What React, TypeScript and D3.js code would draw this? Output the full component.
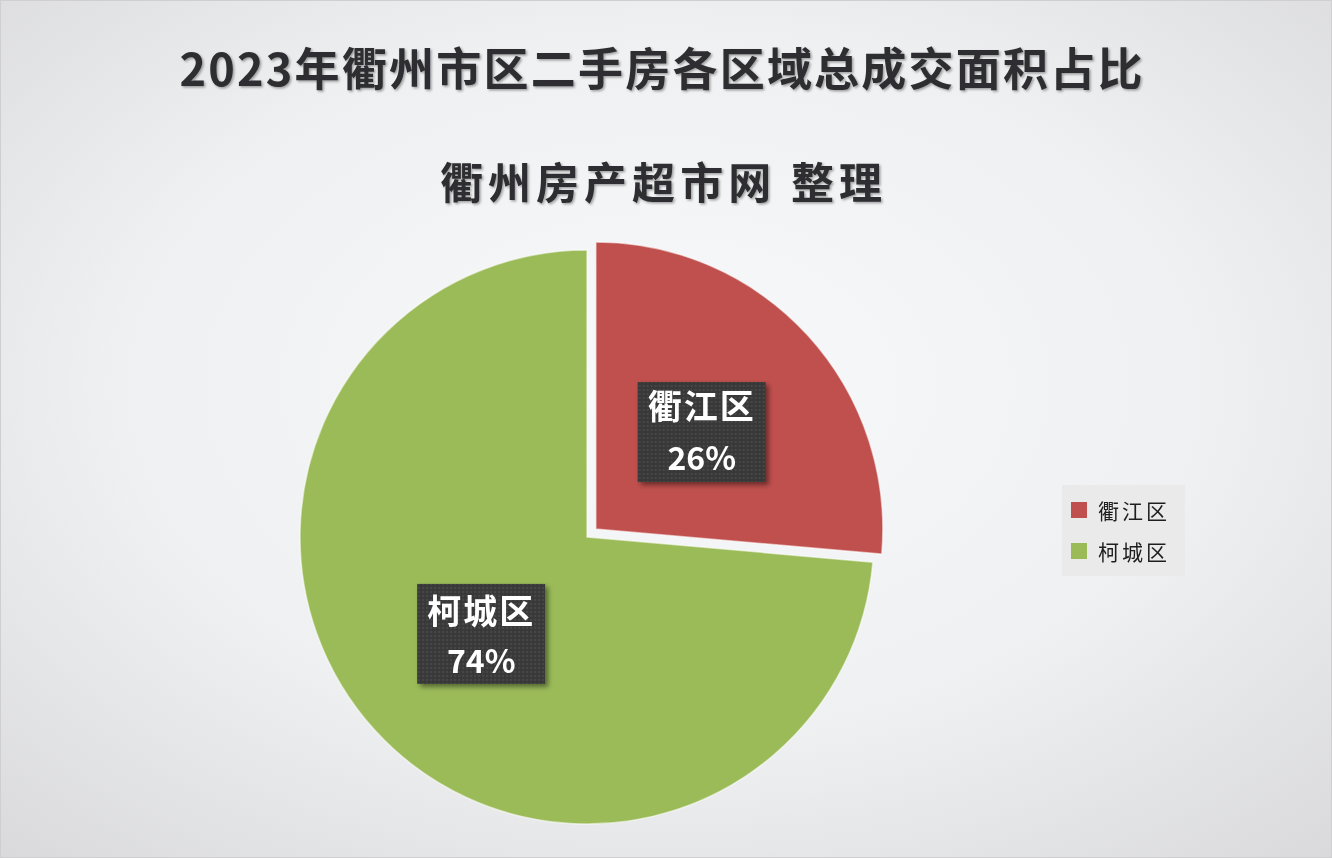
import React from 'react';
import * as d3 from 'd3';

// 区域与占比（%）
const districts = ['衢江区', '柯城区'];
const shares = [26.4, 73.6];
const shareLabels = ['26%', '74%'];
const colors = ['#c0504d', '#9bbb59'];

const titleText = '2023年衢州市区二手房各区域总成交面积占比';
const subtitleText = '衢州房产超市网 整理';

const W = 1332;
const H = 858;
const FONT = '"Noto Sans CJK SC", "Noto Sans", sans-serif';

interface Slice {
  name: string;
  value: number;
  label: string;
  color: string;
}

const slices: Slice[] = districts.map((name, i) => ({
  name,
  value: shares[i],
  label: shareLabels[i],
  color: colors[i],
}));

export default function App() {
  const cx = 587;
  const cy = 537;
  const r = 287;
  const explode = [12, 0];

  const pie = d3.pie<Slice>().value(d => d.value).sort(null);
  const arcs = pie(slices);
  const arc = d3.arc<d3.PieArcDatum<Slice>>().innerRadius(0).outerRadius(r);

  const offset = (a: d3.PieArcDatum<Slice>, dist: number) => {
    const mid = (a.startAngle + a.endAngle) / 2;
    return [Math.sin(mid) * dist, -Math.cos(mid) * dist];
  };

  // label y offsets inside the dark boxes
  const line1 = [-27, -24];
  const line2 = [24, 25];

  return (
    <div style={{ position: 'fixed', left: 0, top: 0, width: W, height: H }}>
      <svg width={W} height={H} style={{ display: 'block' }}>
        <defs>
          <radialGradient id="bg" cx="50%" cy="45%" r="75%">
            <stop offset="0%" stopColor="#f8f9fa" />
            <stop offset="55%" stopColor="#eff0f1" />
            <stop offset="100%" stopColor="#d9d9db" />
          </radialGradient>
          <pattern id="dots" width="4" height="4" patternUnits="userSpaceOnUse">
            <rect width="4" height="4" fill="#393939" />
            <circle cx="2" cy="2" r="0.9" fill="#4d4d4d" />
          </pattern>
          <filter id="titleShadow" x="-5%" y="-30%" width="110%" height="160%">
            <feDropShadow dx="1.5" dy="1.5" stdDeviation="1" floodColor="#000" floodOpacity="0.35" />
          </filter>
          <filter id="boxShadow" x="-20%" y="-20%" width="140%" height="140%">
            <feDropShadow dx="3" dy="3" stdDeviation="2.5" floodColor="#000" floodOpacity="0.45" />
          </filter>
        </defs>

        <rect x={0} y={0} width={W} height={H} fill="url(#bg)" />
        <rect x={0.5} y={0.5} width={W - 1} height={H - 1} fill="none" stroke="#cfcfd1" />

        {/* Titles */}
        <text
          x={661}
          y={86}
          textAnchor="middle"
          fontFamily={FONT}
          fontWeight={700}
          fontSize={45}
          fill="#2e2e30"
          textLength={963}
          lengthAdjust="spacing"
          filter="url(#titleShadow)"
        >
          {titleText}
        </text>
        <text
          x={661}
          y={199}
          textAnchor="middle"
          fontFamily={FONT}
          fontWeight={700}
          fontSize={43}
          fill="#2e2e30"
          textLength={442}
          lengthAdjust="spacing"
          filter="url(#titleShadow)"
        >
          {subtitleText}
        </text>

        {/* Pie */}
        <g transform={`translate(${cx},${cy})`}>
          {arcs.map((a, i) => {
            const [dx, dy] = offset(a, explode[i]);
            return (
              <path
                key={a.data.name}
                transform={`translate(${dx},${dy})`}
                d={arc(a) || ''}
                fill={a.data.color}
                stroke="#ffffff"
                strokeOpacity={0.55}
                strokeWidth={1.5}
              />
            );
          })}

          {arcs.map((a, i) => {
            const [dx, dy] = offset(a, explode[i]);
            const [lx, ly] = arc.centroid(a);
            const bx = lx + dx;
            const by = ly + dy;
            return (
              <g key={`lbl-${a.data.name}`} transform={`translate(${bx},${by})`}>
                <rect
                  x={-64}
                  y={-50}
                  width={128}
                  height={100}
                  fill="url(#dots)"
                  filter="url(#boxShadow)"
                />
                <text
                  y={line1[i]}
                  textAnchor="middle"
                  dominantBaseline="central"
                  fontFamily={FONT}
                  fontWeight={700}
                  fontSize={34}
                  letterSpacing={2}
                  fill="#ffffff"
                >
                  {a.data.name}
                </text>
                <text
                  y={line2[i]}
                  textAnchor="middle"
                  dominantBaseline="central"
                  fontFamily={FONT}
                  fontWeight={700}
                  fontSize={32}
                  fill="#ffffff"
                >
                  {a.data.label}
                </text>
              </g>
            );
          })}
        </g>

        {/* Legend */}
        <g transform="translate(1062,485)">
          <rect x={0} y={0} width={123} height={91} fill="#eaeaeb" />
          {slices.map((s, i) => (
            <g key={`lg-${s.name}`} transform={`translate(0,${25 + i * 41})`}>
              <rect x={9} y={-8} width={16} height={16} fill={s.color} />
              <text
                x={36}
                y={0}
                dominantBaseline="central"
                fontFamily={FONT}
                fontSize={21}
                letterSpacing={3}
                fill="#1e1e1e"
              >
                {s.name}
              </text>
            </g>
          ))}
        </g>
      </svg>
    </div>
  );
}
